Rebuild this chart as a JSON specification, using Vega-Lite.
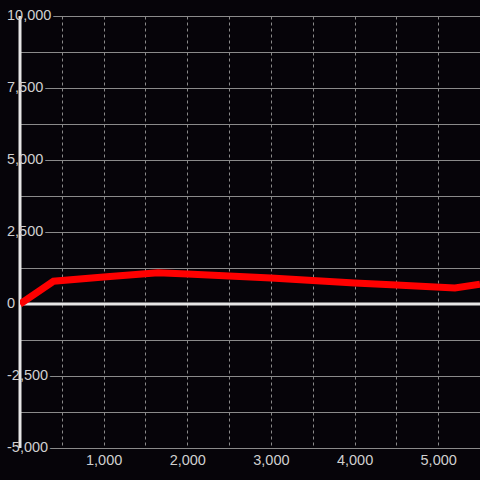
{
  "$schema": "https://vega.github.io/schema/vega-lite/v6.json",
  "autosize": "none",
  "width": 460,
  "height": 432,
  "padding": {"left": 20, "top": 16, "right": 0, "bottom": 32},
  "background": "#060409",
  "config": {
    "view": {"stroke": null},
    "locale": {"number": {"decimal": ".", "thousands": ",", "grouping": [3], "currency": ["$", ""], "minus": "-"}},
    "font": "Liberation Sans",
    "axis": {"labelFont": "Liberation Sans", "labelFontSize": 14.5, "labelColor": "#d0d0d0", "gridColor": "#8a8a8a", "gridWidth": 1, "domain": false, "ticks": false, "tickSize": 0, "title": null}
  },
  "datasets": {
    "series": [
      {"x": 0, "y": 0},
      {"x": 400, "y": 790},
      {"x": 1000, "y": 935},
      {"x": 1650, "y": 1085},
      {"x": 2000, "y": 1040},
      {"x": 2500, "y": 975},
      {"x": 3000, "y": 905},
      {"x": 3500, "y": 815},
      {"x": 4000, "y": 730},
      {"x": 4500, "y": 660},
      {"x": 5200, "y": 560},
      {"x": 5500, "y": 690}
    ],
    "ylabels": [
      {"v": -5000}, {"v": -2500}, {"v": 0}, {"v": 2500}, {"v": 5000}, {"v": 7500}, {"v": 10000}
    ],
    "origin": [{"o": 0}]
  },
  "encoding": {
    "x": {"type": "quantitative",
      "scale": {"domain": [0, 5500], "nice": false, "zero": false},
      "axis": {"values": [500, 1000, 1500, 2000, 2500, 3000, 3500, 4000, 4500, 5000], "grid": true, "gridDash": [3, 3], "labelPadding": 5, "labelExpr": "datum.value % 1000 === 0 ? format(datum.value, ',') : ''"}},
    "y": {"type": "quantitative",
      "scale": {"domain": [-5000, 10000], "nice": false},
      "axis": {"values": [-5000, -3750, -2500, -1250, 0, 1250, 2500, 3750, 5000, 6250, 7500, 8750, 10000], "grid": true, "labels": false}}
  },
  "layer": [
    {
      "data": {"name": "ylabels"},
      "mark": {"type": "text", "align": "left", "baseline": "middle", "dx": -13, "fontSize": 14.5, "fill": "#060409", "stroke": "#060409", "strokeWidth": 5},
      "encoding": {
        "x": {"datum": 0, "type": "quantitative"},
        "y": {"field": "v", "type": "quantitative"},
        "text": {"field": "v", "type": "quantitative", "format": ","}
      }
    },
    {
      "data": {"name": "origin"},
      "mark": {"type": "rule", "color": "#e6e6e6", "strokeWidth": 3},
      "encoding": {"x": {"field": "o", "type": "quantitative"}}
    },
    {
      "data": {"name": "origin"},
      "mark": {"type": "rule", "color": "#e6e6e6", "strokeWidth": 3},
      "encoding": {"y": {"field": "o", "type": "quantitative"}}
    },
    {
      "data": {"name": "series"},
      "mark": {"type": "line", "color": "#ff0000", "strokeWidth": 7, "clip": true},
      "encoding": {
        "x": {"field": "x", "type": "quantitative"},
        "y": {"field": "y", "type": "quantitative"}
      }
    },
    {
      "data": {"name": "ylabels"},
      "mark": {"type": "text", "align": "left", "baseline": "middle", "dx": -13, "fontSize": 14.5, "fill": "#d0d0d0"},
      "encoding": {
        "x": {"datum": 0, "type": "quantitative"},
        "y": {"field": "v", "type": "quantitative"},
        "text": {"field": "v", "type": "quantitative", "format": ","}
      }
    }
  ]
}
